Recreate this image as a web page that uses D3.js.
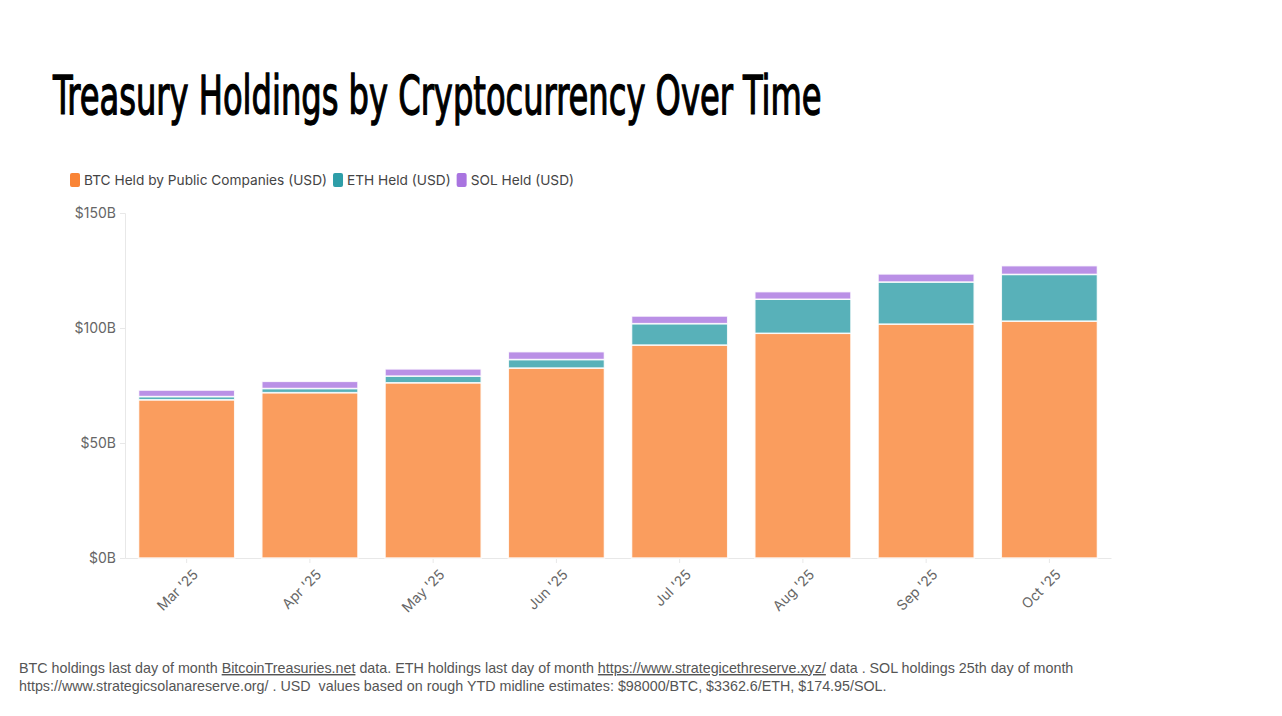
<!DOCTYPE html>
<html>
<head>
<meta charset="utf-8">
<script src="https://d3js.org/d3.v7.min.js"></script>
<style>
    body { margin: 0; background: #fff; }
    svg { display: block; }
</style>
</head>
<body>
<script type="text/javascript">

    // values in billions of USD
    const months = ["Mar '25", "Apr '25", "May '25", "Jun '25", "Jul '25", "Aug '25", "Sep '25", "Oct '25"];
    const btc_values = [68.8, 71.9, 76.2, 82.6, 92.6, 97.7, 101.7, 103.0];
    const eth_values = [1.4, 1.8, 2.9, 3.7, 9.3, 14.8, 18.3, 20.3];
    const sol_values = [2.8, 3.1, 3.1, 3.4, 3.3, 3.3, 3.5, 3.8];
    const series_names = ["BTC Held by Public Companies (USD)", "ETH Held (USD)", "SOL Held (USD)"];
    const series_colors = ["#f98436", "#2e9ea8", "#a974e0"];
    const y_ticks = [0, 50, 100, 150];

    let svg_w = 1282;
    let svg_h = 716;
    let left_marg = 125;
    let right_marg = 171;
    let top_marg = 213;
    let bottom_y = 558;

    let chart_font = "Inter, 'Open Sans', sans-serif";

    let svg = d3.select("body").append("svg")
        .attr("width", svg_w)
        .attr("height", svg_h);

    // title - squeezed to the width of the condensed original
    let title = svg.append("text")
        .style("font-family", "'DejaVu Sans Condensed', sans-serif")
        .style("font-size", "54px")
        .style("fill", "#000")
        .style("stroke", "#000")
        .style("stroke-width", "1.3px")
        .text("Treasury Holdings by Cryptocurrency Over Time");
    let title_w = title.node().getComputedTextLength();
    title.attr("transform", "translate(53,114)scale(" + (769 / title_w) + ",1)");

    // stack the data
    let table = months.map((m, i) => ({
        month: m, btc: btc_values[i], eth: eth_values[i], sol: sol_values[i]
    }));
    let stacked = d3.stack().keys(["btc", "eth", "sol"])(table);

    let x_scale = d3.scaleBand()
        .domain(months)
        .range([left_marg, svg_w - right_marg])
        .paddingInner(0.22)
        .paddingOuter(0.11);

    let y_scale = d3.scaleLinear()
        .domain([0, 150])
        .range([bottom_y, top_marg]);

    // axes
    let y_axis = d3.axisLeft(y_scale)
        .tickValues(y_ticks)
        .tickSize(5)
        .tickFormat(d => "$" + d + "B");

    let y_g = svg.append("g")
        .attr("transform", "translate(" + left_marg + ",0)")
        .call(y_axis);
    y_g.select(".domain").attr("stroke", "#e8e8e8");
    y_g.selectAll(".tick line").attr("stroke", "#e8e8e8");
    y_g.selectAll(".tick text")
        .attr("x", -9)
        .style("font-family", chart_font)
        .style("font-size", "14px")
        .style("fill", "#666");

    let x_axis = d3.axisBottom(x_scale).tickSize(5).tickSizeOuter(0);
    let x_g = svg.append("g")
        .attr("transform", "translate(0," + bottom_y + ")")
        .call(x_axis);
    x_g.select(".domain").attr("stroke", "#e8e8e8");
    x_g.selectAll(".tick line").attr("stroke", "#e8e8e8");
    x_g.selectAll(".tick text")
        .style("font-family", chart_font)
        .style("font-size", "14px")
        .style("fill", "#666")
        .style("text-anchor", "end")
        .attr("y", 0)
        .attr("dy", "0.35em")
        .attr("transform", "translate(9,14)rotate(-45)");

    // bars
    svg.append("g")
        .selectAll("g")
        .data(stacked)
        .join("g")
        .attr("fill", (d, i) => series_colors[i])
        .attr("fill-opacity", 0.8)
        .selectAll("rect")
        .data(d => d)
        .join("rect")
        .attr("x", d => x_scale(d.data.month))
        .attr("width", x_scale.bandwidth())
        .attr("y", d => y_scale(d[1]))
        .attr("height", d => y_scale(d[0]) - y_scale(d[1]))
        .attr("stroke", "#fff")
        .attr("stroke-opacity", 0.85)
        .attr("stroke-width", 1.5);

    // legend
    let legend = svg.append("g").attr("transform", "translate(70,180)");
    let lx = 0;
    series_names.forEach((name, i) => {
        legend.append("rect")
            .attr("x", lx)
            .attr("y", -7)
            .attr("width", 10)
            .attr("height", 14)
            .attr("rx", 2)
            .attr("fill", series_colors[i]);
        let t = legend.append("text")
            .attr("x", lx + 14)
            .attr("y", 0)
            .attr("dy", "0.35em")
            .style("font-family", chart_font)
            .style("font-size", "13.7px")
            .style("fill", "#444")
            .text(name);
        lx += 14 + t.node().getComputedTextLength() + 6;
    });

    // footnote
    let foot_font = "'Liberation Sans', Arial, sans-serif";
    let foot1 = svg.append("text")
        .attr("x", 19)
        .attr("y", 673)
        .style("font-family", foot_font)
        .style("font-size", "14.3px")
        .style("fill", "#555");
    foot1.append("tspan").text("BTC holdings last day of month ");
    foot1.append("tspan").style("text-decoration", "underline").text("BitcoinTreasuries.net");
    foot1.append("tspan").text(" data. ETH holdings last day of month ");
    foot1.append("tspan").style("text-decoration", "underline").text("https://www.strategicethreserve.xyz/");
    foot1.append("tspan").text(" data . SOL holdings 25th day of month");

    svg.append("text")
        .attr("x", 19)
        .attr("y", 691)
        .style("font-family", foot_font)
        .style("font-size", "14.3px")
        .style("fill", "#555")
        .style("white-space", "pre")
        .text("https://www.strategicsolanareserve.org/ . USD  values based on rough YTD midline estimates: $98000/BTC, $3362.6/ETH, $174.95/SOL.");

</script>
</body>
</html>
